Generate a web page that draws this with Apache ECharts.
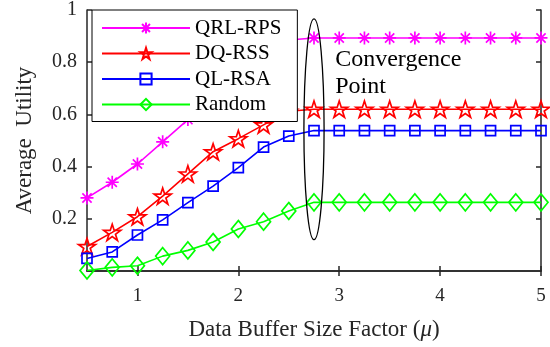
<!DOCTYPE html>
<html>
<head>
<meta charset="utf-8">
<script src="https://cdn.jsdelivr.net/npm/echarts@6/dist/echarts.min.js"></script>
<style>
  html, body { margin: 0; padding: 0; background: #fff; }
  #chart { width: 550px; height: 347px; }
</style>
</head>
<body>
<div id="chart"></div>
<script>
// data
const bufferFactor = [0.5, 0.75, 1, 1.25, 1.5, 1.75, 2, 2.25, 2.5, 2.75, 3, 3.25, 3.5, 3.75, 4, 4.25, 4.5, 4.75, 5];
const qrlRps = [0.28, 0.34, 0.41, 0.495, 0.58, 0.66, 0.74, 0.82, 0.885, 0.893, 0.893, 0.893, 0.893, 0.893, 0.893, 0.893, 0.893, 0.893, 0.893];
const dqRss = [0.094, 0.148, 0.208, 0.287, 0.372, 0.457, 0.507, 0.56, 0.612, 0.62, 0.62, 0.62, 0.62, 0.62, 0.62, 0.62, 0.62, 0.62, 0.62];
const qlRsa = [0.048, 0.073, 0.138, 0.196, 0.262, 0.325, 0.396, 0.475, 0.517, 0.538, 0.538, 0.538, 0.538, 0.538, 0.538, 0.538, 0.538, 0.538, 0.538];
const randomAlloc = [0.002, 0.014, 0.02, 0.057, 0.079, 0.111, 0.161, 0.189, 0.23, 0.263, 0.263, 0.263, 0.263, 0.263, 0.263, 0.263, 0.263, 0.263, 0.263];
const xTicks = [1, 2, 3, 4, 5];
const yTicks = [0.2, 0.4, 0.6, 0.8, 1];

// convergence annotation (data coords)
const ellipseCenter = [2.75, 0.543];
const ellipseRadius = [0.1, 0.423];
const notePos = [2.96, 0.86];

const FONT = 'Liberation Serif';
const AXIS = '#262626';

const asterisk = 'path://M0,-10L0,10M-10,0L10,0M-7.1,-7.1L7.1,7.1M-7.1,7.1L7.1,-7.1';
const star = 'path://M0,-1L0.2245,-0.309L0.951,-0.309L0.363,0.118L0.588,0.809L0,0.382L-0.588,0.809L-0.363,0.118L-0.951,-0.309L-0.2245,-0.309Z';

function mk(name, vals, color, symbol, size) {
  return {
    name: name,
    type: 'line',
    data: bufferFactor.map((x, i) => [x, vals[i]]),
    symbol: symbol,
    symbolSize: size,
    symbolKeepAspect: true,
    showAllSymbol: true,
    lineStyle: { color: color, width: 1.6 },
    itemStyle: { color: 'rgba(255,255,255,0)', borderColor: color, borderWidth: 1.7 }
  };
}

const chart = echarts.init(document.getElementById('chart'));
chart.setOption({
  animation: false,
  backgroundColor: '#fff',
  grid: { left: 87, right: 9, top: 6, bottom: 76 },
  legend: {
    orient: 'vertical',
    left: 92, top: 10,
    backgroundColor: '#fff',
    borderColor: '#000',
    borderWidth: 1,
    padding: [7, 16, 6, 9],
    itemWidth: 88,
    itemHeight: 14,
    itemGap: 3.5,
    textStyle: { fontFamily: FONT, fontSize: 21, lineHeight: 22, color: '#000' },
    data: ['QRL-RPS', 'DQ-RSS', 'QL-RSA', 'Random']
  },
  xAxis: [{
    type: 'value', min: 0.5, max: 5,
    name: 'Data Buffer Size Factor ({i|\u03bc})',
    nameLocation: 'middle', nameGap: 47,
    nameTextStyle: {
      fontFamily: FONT, fontSize: 23, color: '#262626',
      rich: { i: { fontFamily: FONT, fontSize: 23, fontStyle: 'italic', color: '#262626' } }
    },
    axisLine: { lineStyle: { color: AXIS, width: 1.5 } },
    axisTick: { inside: true, length: 5, customValues: xTicks, lineStyle: { color: AXIS, width: 1.5 } },
    axisLabel: { customValues: xTicks, margin: 16, fontFamily: FONT, fontSize: 19, color: '#262626' },
    splitLine: { show: false }
  }, {
    type: 'value', min: 0.5, max: 5, position: 'top',
    axisLine: { lineStyle: { color: AXIS, width: 1.5 } },
    axisTick: { inside: true, length: 5, customValues: xTicks, lineStyle: { color: AXIS, width: 1.5 } },
    axisLabel: { show: false },
    splitLine: { show: false }
  }],
  yAxis: [{
    type: 'value', min: 0, max: 1, interval: 0.2,
    name: 'Average  Utility',
    nameLocation: 'middle', nameGap: 51,
    nameTextStyle: { fontFamily: FONT, fontSize: 23, color: '#262626' },
    axisLine: { lineStyle: { color: AXIS, width: 1.5 } },
    axisTick: { inside: true, length: 5, customValues: yTicks, lineStyle: { color: AXIS, width: 1.5 } },
    axisLabel: { customValues: yTicks, margin: 10, fontFamily: FONT, fontSize: 20, color: '#262626' },
    splitLine: { show: false }
  }, {
    type: 'value', min: 0, max: 1, interval: 0.2, position: 'right',
    axisLine: { show: true, lineStyle: { color: AXIS, width: 1.5 } },
    axisTick: { inside: true, length: 5, customValues: yTicks, lineStyle: { color: AXIS, width: 1.5 } },
    axisLabel: { show: false },
    splitLine: { show: false }
  }],
  series: [
    mk('QRL-RPS', qrlRps, '#ff00ff', asterisk, 13),
    mk('DQ-RSS', dqRss, '#ff0000', star, 17),
    mk('QL-RSA', qlRsa, '#0000ff', 'rect', 10),
    mk('Random', randomAlloc, '#00ff00', 'diamond', [14, 17])
  ]
});

// ellipse + label positioned through the axes
const c = chart.convertToPixel({ xAxisIndex: 0, yAxisIndex: 0 }, ellipseCenter);
const e = chart.convertToPixel({ xAxisIndex: 0, yAxisIndex: 0 },
  [ellipseCenter[0] + ellipseRadius[0], ellipseCenter[1] + ellipseRadius[1]]);
const n = chart.convertToPixel({ xAxisIndex: 0, yAxisIndex: 0 }, notePos);
chart.setOption({
  graphic: [{
    type: 'ellipse',
    shape: { cx: c[0], cy: c[1], rx: e[0] - c[0], ry: c[1] - e[1] },
    style: { fill: 'none', stroke: '#000', lineWidth: 1.3 },
    z: 10
  }, {
    type: 'text',
    x: n[0], y: n[1],
    style: {
      text: 'Convergence\nPoint',
      font: '24px "Liberation Serif"',
      fill: '#000',
      lineHeight: 27
    },
    z: 10
  }]
});
</script>
</body>
</html>
